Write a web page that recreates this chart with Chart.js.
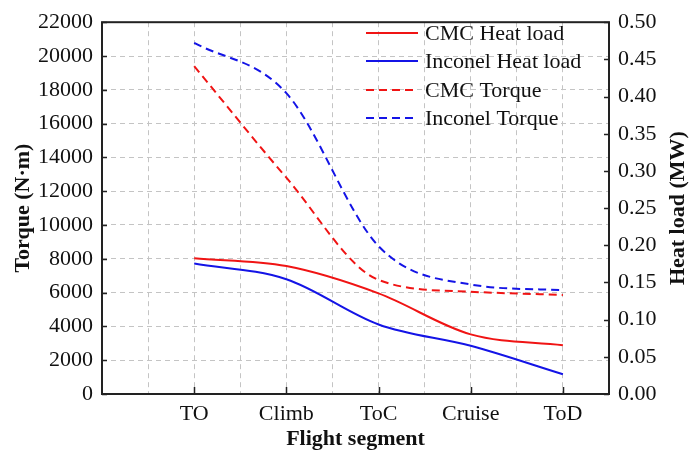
<!DOCTYPE html>
<html>
<head>
<meta charset="utf-8">
<script src="https://cdn.jsdelivr.net/npm/chart.js@4"></script>
<style>
  html, body { margin: 0; padding: 0; background: #fff; }
  #wrap { width: 689px; height: 459px; }
</style>
</head>
<body>
<div id="wrap"><canvas id="chart"></canvas></div>
<script>
const segments = ["TO", "Climb", "ToC", "Cruise", "ToD"];
const cmcHeat = [0.1825, 0.172, 0.1353, 0.0802, 0.0657];
const inconelHeat = [0.1755, 0.1543, 0.0935, 0.0648, 0.0265];
const cmcTorque = [19400, 12800, 6750, 6050, 5860];
const inconelTorque = [20780, 17800, 8750, 6480, 6150];

const RED = "#f01414";
const BLUE = "#1414e6";
const FONT = "'Liberation Serif', 'Times New Roman', serif";

const toPoints = arr => arr.map((v, i) => ({ x: i, y: v }));

const legendItems = [
    { label: "CMC Heat load", color: RED, dash: [] },
    { label: "Inconel Heat load", color: BLUE, dash: [] },
    { label: "CMC Torque", color: RED, dash: [8, 5] },
    { label: "Inconel Torque", color: BLUE, dash: [8, 5] }
];

// frame, inward ticks, right title and the legend
const framePlugin = {
    id: "frame",
    afterDraw(chart) {
        const { ctx, chartArea: a, scales } = chart;
        ctx.save();
        ctx.strokeStyle = "#222";
        ctx.lineWidth = 1.5;
        ctx.setLineDash([]);
        ctx.beginPath();
        scales.x.ticks.forEach(t => {
            if (!Number.isInteger(t.value) || t.value < 0) return;
            const px = Math.round(scales.x.getPixelForValue(t.value)) + 0.5;
            ctx.moveTo(px, a.bottom); ctx.lineTo(px, a.bottom - 7);
        });
        scales.y.ticks.forEach(t => {
            const py = Math.round(scales.y.getPixelForValue(t.value)) + 0.5;
            ctx.moveTo(a.left, py); ctx.lineTo(a.left + 5, py);
        });
        scales.y1.ticks.forEach(t => {
            const py = Math.round(scales.y1.getPixelForValue(t.value)) + 0.5;
            ctx.moveTo(a.right, py); ctx.lineTo(a.right - 5, py);
        });
        ctx.stroke();
        ctx.lineWidth = 2;
        ctx.strokeRect(a.left, a.top, a.right - a.left, a.bottom - a.top);

        // right axis title, reading bottom to top
        ctx.fillStyle = "#111";
        ctx.font = "bold 22px " + FONT;
        ctx.textAlign = "center";
        ctx.textBaseline = "middle";
        ctx.save();
        ctx.translate(678, (a.top + a.bottom) / 2);
        ctx.rotate(-Math.PI / 2);
        ctx.fillText("Heat load (MW)", 0, 0);
        ctx.restore();

        // legend
        ctx.font = "22px " + FONT;
        ctx.textAlign = "left";
        const rows = [33, 61, 90, 118];
        legendItems.forEach((it, i) => {
            const y = rows[i];
            ctx.strokeStyle = it.color;
            ctx.lineWidth = 2;
            ctx.setLineDash(it.dash);
            ctx.beginPath();
            ctx.moveTo(a.right - 243, y); ctx.lineTo(a.right - 191, y);
            ctx.stroke();
            ctx.fillText(it.label, a.right - 184, y + 1);
        });
        ctx.restore();
    }
};

function lineSet(label, data, color, axis, dashed) {
    return {
        label: label,
        data: toPoints(data),
        yAxisID: axis,
        borderColor: color,
        backgroundColor: color,
        borderWidth: 2,
        borderDash: dashed ? [8, 5] : [],
        pointRadius: 0,
        cubicInterpolationMode: "monotone",
        fill: false
    };
}

new Chart(document.getElementById("chart"), {
    type: "line",
    data: {
        datasets: [
            lineSet("CMC Heat load", cmcHeat, RED, "y1", false),
            lineSet("Inconel Heat load", inconelHeat, BLUE, "y1", false),
            lineSet("CMC Torque", cmcTorque, RED, "y", true),
            lineSet("Inconel Torque", inconelTorque, BLUE, "y", true)
        ]
    },
    options: {
        responsive: true,
        maintainAspectRatio: false,
        animation: false,
        layout: { padding: { top: 16, left: 0, right: 0, bottom: 0 } },
        plugins: { legend: { display: false }, tooltip: { enabled: false } },
        scales: {
            x: {
                type: "linear",
                min: -1,
                max: 4.5,
                afterFit: s => { s.height = 65; },
                afterBuildTicks: s => {
                    s.ticks = [];
                    for (let v = -1; v <= 4.5; v += 0.5) s.ticks.push({ value: v });
                },
                ticks: {
                    autoSkip: false,
                    maxRotation: 0,
                    padding: 7,
                    color: "#111",
                    font: { family: FONT, size: 22 },
                    callback: v => (Number.isInteger(v) && v >= 0 && v < segments.length) ? segments[v] : ""
                },
                grid: { color: "#c4c4c4", lineWidth: 1, drawTicks: false },
                border: { display: false, dash: [5, 4] },
                title: {
                    display: true,
                    text: "Flight segment",
                    color: "#111",
                    font: { family: FONT, size: 22, weight: "bold" },
                    padding: { top: 0, bottom: 6 }
                }
            },
            y: {
                position: "left",
                min: 0,
                max: 22000,
                afterFit: s => { s.width = 102; },
                ticks: {
                    stepSize: 1000,
                    padding: 9,
                    color: "#111",
                    font: { family: FONT, size: 22 },
                    callback: v => v % 2000 === 0 ? String(v) : ""
                },
                grid: { color: "#c4c4c4", lineWidth: 1, drawTicks: false },
                border: { display: false, dash: [5, 4] },
                title: {
                    display: true,
                    text: "Torque (N·m)",
                    color: "#111",
                    font: { family: FONT, size: 22, weight: "bold" },
                    padding: { top: 10, bottom: 0 }
                }
            },
            y1: {
                position: "right",
                min: 0,
                max: 0.5,
                afterFit: s => { s.width = 80; },
                ticks: {
                    stepSize: 0.025,
                    padding: 9,
                    color: "#111",
                    font: { family: FONT, size: 22 },
                    callback: v => {
                        const k = Math.round(v * 1000);
                        return k % 50 === 0 ? (k / 1000).toFixed(2) : "";
                    }
                },
                grid: { drawOnChartArea: false, drawTicks: false },
                border: { display: false },
                title: { display: false }
            }
        }
    },
    plugins: [framePlugin]
});
</script>
</body>
</html>
